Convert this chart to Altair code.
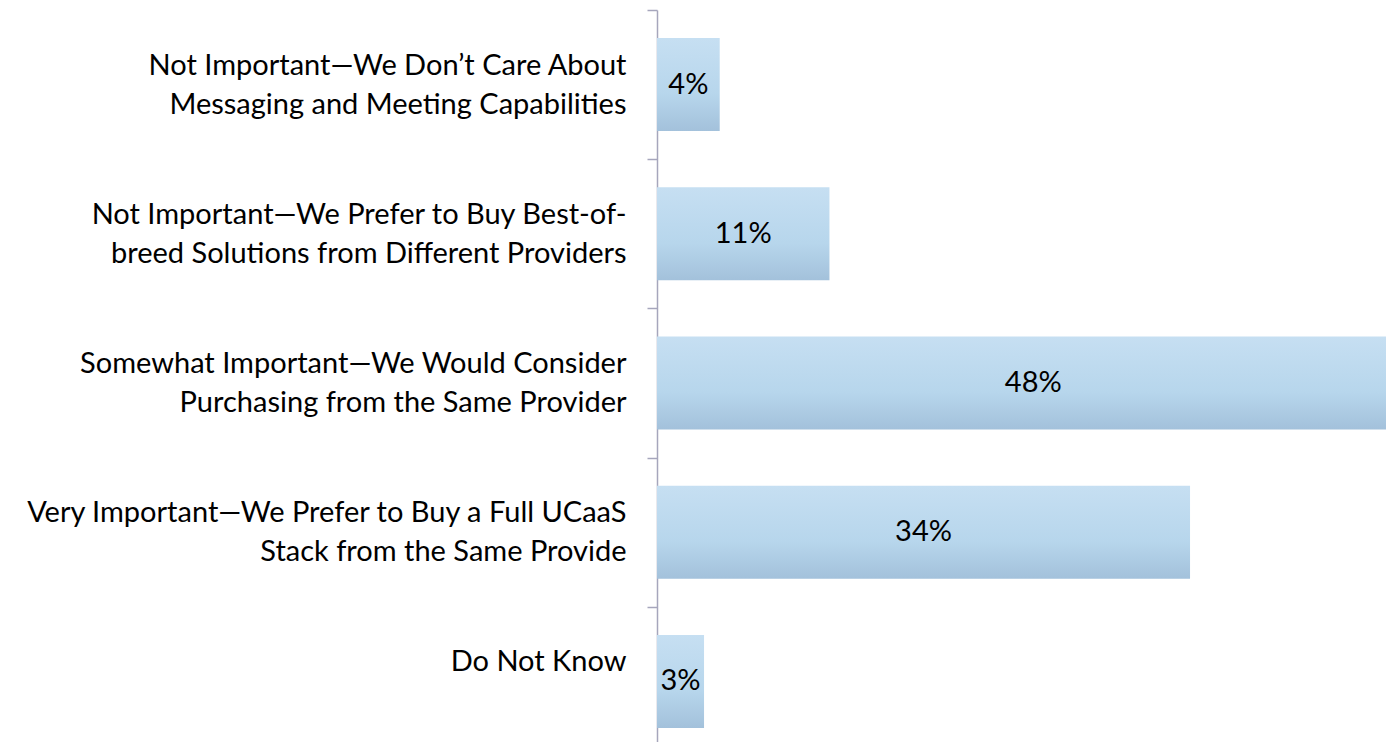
import altair as alt
import pandas as pd

categories = [
    "Not Important\u2014We Don\u2019t Care About|Messaging and Meeting Capabilities",
    "Not Important\u2014We Prefer to Buy Best-of-|breed Solutions from Different Providers",
    "Somewhat Important\u2014We Would Consider|Purchasing from the Same Provider",
    "Very Important\u2014We Prefer to Buy a Full UCaaS|Stack from the Same Provide",
    "Do Not Know",
]
values = [4, 11, 48, 34, 3]
value_labels = ["4%", "11%", "48%", "34%", "3%"]

df = pd.DataFrame({"cat": categories, "value": values, "label": value_labels})
df["mid"] = df["value"] / 2

FONT = "Lato"
FS = 29

yscale = alt.Scale(paddingInner=0, paddingOuter=0, range=[0, 746])

yaxis = alt.Axis(
    labelExpr="split(datum.label, '|')",
    labelFont=FONT,
    labelFontSize=FS,
    labelColor="#000000",
    labelAlign="right",
    labelPadding=21,
    labelOffset=-19.5,
    labelLineHeight=39,
    labelLimit=700,
    tickSize=10,
    tickColor="#A6A6BC",
    domainColor="#A6A6BC",
    tickWidth=1.5,
    domainWidth=1.5,
    tickBand="extent",
    grid=False,
)

bars = alt.Chart(df).mark_bar(
    clip=True,
    height=93,
    color=alt.Gradient(
        gradient="linear",
        stops=[
            alt.GradientStop(color="#C6DFF2", offset=0),
            alt.GradientStop(color="#B7D6EC", offset=0.6),
            alt.GradientStop(color="#A3C1DB", offset=1),
        ],
        x1=0, x2=0, y1=0, y2=1,
    ),
).encode(
    x=alt.X("value:Q", scale=alt.Scale(domain=[0, 46.5], nice=False, zero=True), axis=None),
    y=alt.Y("cat:N", sort=categories, title=None, scale=yscale, axis=yaxis),
)

texts = alt.Chart(df).mark_text(
    font=FONT, fontSize=FS, color="#000000", align="center", baseline="middle"
).encode(
    x=alt.X("mid:Q", axis=None),
    y=alt.Y("cat:N", sort=categories, title=None, scale=yscale, axis=yaxis),
    text="label:N",
)

chart = (
    alt.layer(bars, texts)
    .properties(
        width=729,
        height=732,
        background="#FFFFFF",
        autosize=alt.AutoSizeParams(type="none"),
        padding={"left": 649, "top": 2, "right": 0, "bottom": 0},
    )
    .configure_view(strokeWidth=0, stroke="transparent")
)

chart.save("out.html", embed_options={"renderer": "svg", "actions": False})
